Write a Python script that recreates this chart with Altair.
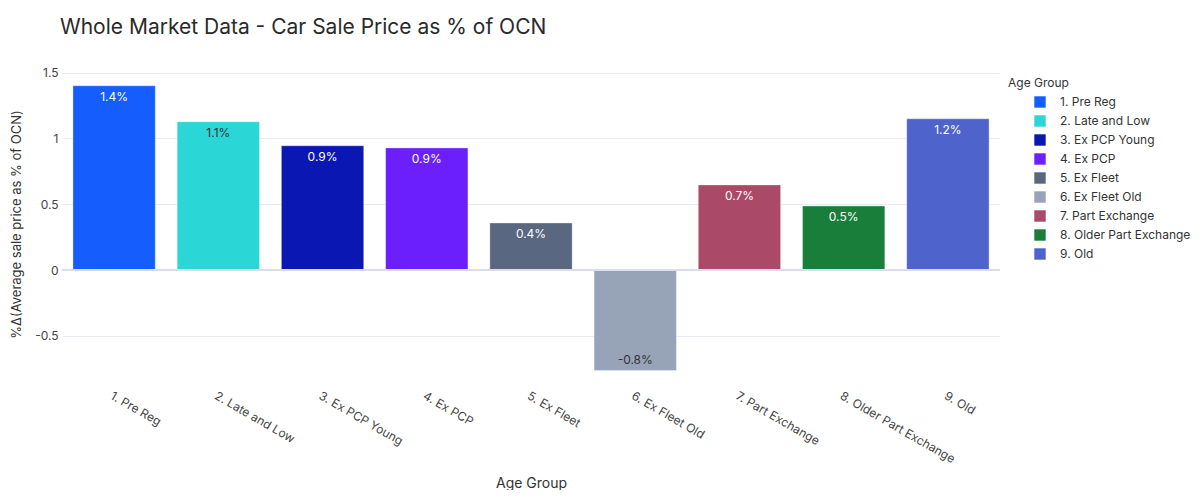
import altair as alt
import pandas as pd

categories = ["1. Pre Reg", "2. Late and Low", "3. Ex PCP Young", "4. Ex PCP",
              "5. Ex Fleet", "6. Ex Fleet Old", "7. Part Exchange",
              "8. Older Part Exchange", "9. Old"]
values = [1.40, 1.126, 0.944, 0.928, 0.358, -0.762, 0.647, 0.487, 1.149]
labels = ["1.4%", "1.1%", "0.9%", "0.9%", "0.4%", "-0.8%", "0.7%", "0.5%", "1.2%"]
colors = ["#155DFC", "#2AD6D6", "#0B17B3", "#6A1FFC", "#5A6781",
          "#97A3B6", "#AA4A68", "#187E3A", "#4F63CC"]
text_colors = ["#ffffff", "#333333", "#ffffff", "#ffffff", "#ffffff",
               "#333333", "#ffffff", "#ffffff", "#ffffff"]
y_ticks = [-0.5, 0, 0.5, 1, 1.5]

df = pd.DataFrame({"cat": categories, "val": values, "lab": labels, "tc": text_colors})

FONT = "Inter"
W, H = 938, 316

x_enc = alt.X("cat:N", sort=categories, title="Age Group",
              scale=alt.Scale(paddingInner=0.21, paddingOuter=0.105),
              axis=alt.Axis(labelAngle=30, labelAlign="left", labelBaseline="top",
                            labelPadding=8, ticks=False, domain=False, grid=False,
                            labelFontSize=12, labelColor="#444444", labelFont=FONT,
                            titleFont=FONT, titleFontSize=14, titleFontWeight="normal",
                            titleColor="#333333", titleY=101, titleBaseline="middle"))
y_scale = alt.Scale(domain=[-0.85, 1.55], nice=False, zero=False)

bars = alt.Chart(df).mark_bar(stroke="white", strokeOpacity=0.35, strokeWidth=1).encode(
    x=x_enc,
    y=alt.Y("val:Q", scale=y_scale, title="%Δ(Average sale price as % of OCN)",
            axis=alt.Axis(values=y_ticks, labelExpr="datum.value + ''", ticks=False,
                          domain=False, gridColor="#E8EAF3", labelFontSize=12,
                          labelColor="#444444", labelFont=FONT, labelPadding=4,
                          titleFont=FONT, titleFontSize=13, titleFontWeight="normal",
                          titleColor="#333333", titleX=-46, titleY=H / 2,
                          titleAlign="center", titleBaseline="middle")),
    color=alt.Color("cat:N", sort=categories,
                    scale=alt.Scale(domain=categories, range=colors),
                    legend=alt.Legend(title="Age Group", orient="none", legendX=946,
                                      legendY=12, symbolType="square", symbolSize=130,
                                      symbolStrokeWidth=0, symbolOffset=26,
                                      labelOffset=14, rowPadding=7,
                                      labelFont=FONT, labelFontSize=12,
                                      labelColor="#333333", titleFont=FONT,
                                      titleFontSize=12, titleFontWeight="normal",
                                      titleColor="#333333", titlePadding=6)),
)

zero = alt.Chart(df).mark_rule(color="#DADEEC", strokeWidth=2).encode(y=alt.datum(0))

pos = alt.Chart(df).transform_filter("datum.val >= 0").mark_text(
    baseline="top", dy=6, fontSize=12, font=FONT).encode(
    x=alt.X("cat:N", sort=categories),
    y=alt.Y("val:Q", scale=y_scale),
    text="lab:N",
    color=alt.Color("tc:N", scale=None),
)
neg = alt.Chart(df).transform_filter("datum.val < 0").mark_text(
    baseline="bottom", dy=-3, fontSize=12, font=FONT).encode(
    x=alt.X("cat:N", sort=categories),
    y=alt.Y("val:Q", scale=y_scale),
    text="lab:N",
    color=alt.Color("tc:N", scale=None),
)

chart = alt.layer(bars, zero, pos, neg).properties(
    width=W, height=H,
    background="white",
    title=alt.TitleParams("Whole Market Data - Car Sale Price as % of OCN",
                          anchor="start", frame="group", font=FONT, fontSize=21,
                          fontWeight="normal", color="#2A2A2A", dx=-2, offset=28),
    autosize=alt.AutoSizeParams(type="none"),
    padding={"left": 54, "top": 58, "right": 191, "bottom": 108},
).configure_view(stroke=None)

chart.save("out.html", embed_options={"renderer": "svg", "actions": False})
